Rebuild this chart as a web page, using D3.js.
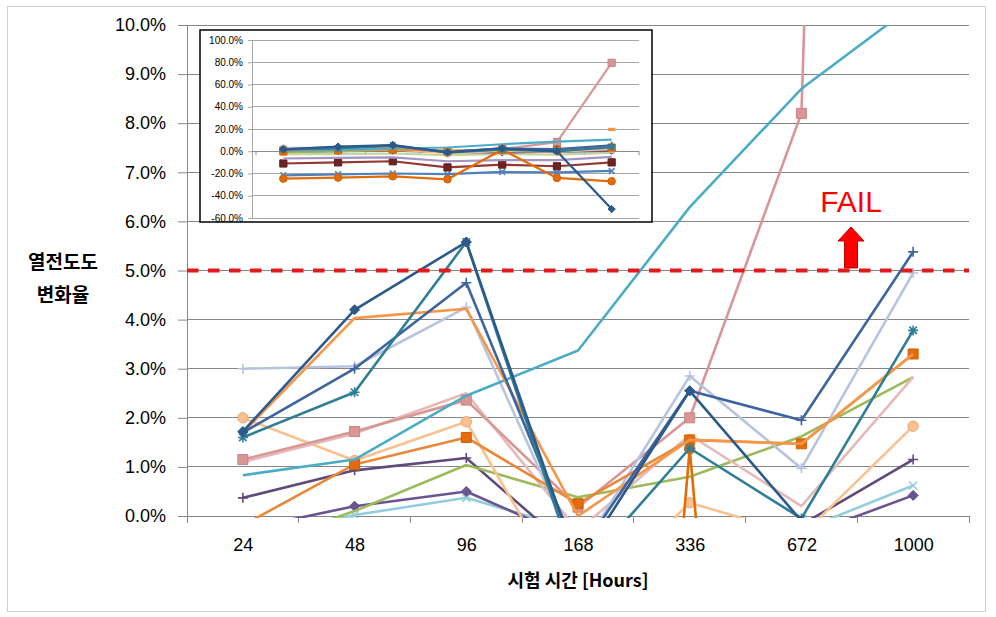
<!DOCTYPE html>
<html><head><meta charset="utf-8">
<script src="https://cdn.jsdelivr.net/npm/d3@7"></script>
<style>body{margin:0;background:#fff;} svg{display:block;}</style>
</head><body><svg id="c" width="996" height="617"></svg>
<script>
// ---------- DATA ----------
const categories = ["24", "48", "96", "168", "336", "672", "1000"];
const mainTicks = [0, 1, 2, 3, 4, 5, 6, 7, 8, 9, 10];
const insetTicks = [-60, -40, -20, 0, 20, 40, 60, 80, 100];
const failLimit = 5;
const xTitle = "시험 시간 [Hours]";
const yTitleLines = ["열전도도", "변화율"];
const failLabel = "FAIL";

// series values (% change)
const navyDiamond   = [1.72, 4.20, 5.58, -1.0, 2.55, -0.10, -52.0];
const tealStar      = [1.60, 2.52, 5.58, -1.2, 1.38, -0.05, 3.78];
const bluePlus      = [1.70, 3.00, 4.75, -0.8, 2.55, 1.95, 5.38];
const orangeLine    = [1.70, 4.03, 4.22, 0.00, 1.55, 1.47, 3.30];
const orangeSquare  = [-0.19, 1.05, 1.60, 0.25, 1.55, 1.47, 3.30];
const orangeCircle  = [-24.6, -23.7, -22.5, -25.2, 1.37, -24.0, -27.0];
const lavenderPlus  = [3.00, 3.05, 4.25, -0.8, 2.85, 0.97, 4.95];
const roseSquare    = [1.15, 1.72, 2.36, 0.18, 2.00, 8.20, 79.5];
const pinkLine      = [1.10, 1.68, 2.50, -0.3, 1.65, 0.20, 2.83];
const cyanLine      = [0.83, 1.15, 2.45, 3.37, 6.29, 8.70, 10.4];
const peachCircle   = [2.00, 1.13, 1.92, -2.0, 0.27, -0.40, 1.83];
const greenLine     = [-0.70, 0.10, 1.04, 0.38, 0.80, 1.62, 2.83];
const purplePlus    = [0.37, 0.93, 1.18, -0.8, -0.8, -0.18, 1.15];
const purpleDiamond = [-0.28, 0.20, 0.50, -0.5, -1.0, -0.42, 0.42];
const aquaX         = [-0.50, 0.02, 0.37, -0.3, -0.5, -0.29, 0.62];
const blueX         = [-21.6, -20.7, -20.0, -20.6, -18.6, -19.0, -17.7];
const darkRedSquare = [-11.0, -10.0, -9.0, -14.5, -12.0, -13.5, -10.0];
const purpleGray    = [-6.5, -6.0, -5.5, -9.0, -8.0, -8.0, -5.0];
const lightGreen    = [-2.5, -2.5, -2.0, -3.5, -2.5, -3.0, -1.5];
const orangeDash    = [null, null, null, null, null, null, 19.6];

// ---------- STYLES (drawing order) ----------
const seriesList = [
  {v: blueX,         c: "#4F81BD", m: "x"},
  {v: orangeDash,    c: "#F79646", m: "dash"},
  {v: darkRedSquare, c: "#953735", m: "square", mf: "#6B2422"},
  {v: purpleGray,    c: "#A193C4", m: "none"},
  {v: lightGreen,    c: "#C3D69B", m: "none"},
  {v: aquaX,         c: "#93CDDD", m: "x"},
  {v: purpleDiamond, c: "#6B5591", m: "diamond"},
  {v: purplePlus,    c: "#604A7B", m: "plus"},
  {v: greenLine,     c: "#9BBB59", m: "none"},
  {v: peachCircle,   c: "#FAC090", m: "circle"},
  {v: pinkLine,      c: "#E6B9B8", m: "none"},
  {v: roseSquare,    c: "#D99694", m: "square"},
  {v: lavenderPlus,  c: "#B8C3DE", m: "plus"},
  {v: orangeSquare,  c: "#E8883A", m: "square", mf: "#E46C0A"},
  {v: orangeCircle,  c: "#E36C09", m: "circle"},
  {v: cyanLine,      c: "#4BACC6", m: "none"},
  {v: orangeLine,    c: "#F79646", m: "none"},
  {v: bluePlus,      c: "#3D63A0", m: "plus"},
  {v: tealStar,      c: "#2E7F96", m: "star"},
  {v: navyDiamond,   c: "#2C5A8C", m: "diamond"}
];

function markerPath(type, s) {
  switch (type) {
    case "diamond": return `M0,${-s}L${s},0L0,${s}L${-s},0Z`;
    case "square": return `M${-s},${-s}H${s}V${s}H${-s}Z`;
    case "circle": return d3.symbol(d3.symbolCircle, Math.PI * s * s)();
    case "plus": return `M${-s},0H${s}M0,${-s}V${s}`;
    case "x": return `M${-s*0.8},${-s*0.8}L${s*0.8},${s*0.8}M${-s*0.8},${s*0.8}L${s*0.8},${-s*0.8}`;
    case "star": return `M${-s},0H${s}M0,${-s}V${s}M${-s*0.75},${-s*0.75}L${s*0.75},${s*0.75}M${-s*0.75},${s*0.75}L${s*0.75},${-s*0.75}`;
    case "dash": return `M${-s},0H${s}`;
  }
  return "";
}
const filled = t => t === "diamond" || t === "square" || t === "circle";

const svg = d3.select("#c");
const FONT = "'Liberation Sans', Arial, 'Noto Sans CJK KR', sans-serif";
const KFONT = "'Noto Sans CJK KR', 'Liberation Sans', sans-serif";

// outer border
svg.append("rect").attr("x", 7.5).attr("y", 6.5).attr("width", 978).attr("height", 605)
  .attr("fill", "#fff").attr("stroke", "#D0D0D0").attr("stroke-width", 1);

// ---------- MAIN CHART ----------
const M = {left: 187, right: 969, top: 25, bottom: 516};
const x = d3.scalePoint().domain(categories).range([M.left, M.right]).padding(0.5);
const y = d3.scaleLinear().domain([0, 10]).range([M.bottom, M.top]);

svg.append("g").selectAll("line").data(mainTicks.filter(t => t > 0)).join("line")
  .attr("x1", M.left).attr("x2", M.right).attr("y1", d => y(d)).attr("y2", d => y(d))
  .attr("stroke", "#868686").attr("stroke-width", 1).attr("shape-rendering", "crispEdges");

const yAxis = d3.axisLeft(y).tickValues(mainTicks).tickFormat(d => d.toFixed(1) + "%").tickSize(9).tickPadding(12);
const gy = svg.append("g").attr("transform", `translate(${M.left},0)`).call(yAxis);
gy.select(".domain").attr("stroke", "#868686");
gy.selectAll(".tick line").attr("stroke", "#868686");
gy.selectAll("text").attr("font-family", FONT).attr("font-size", 18).attr("fill", "#000");

const xAxis = d3.axisBottom(x).tickSize(0).tickPadding(22);
const gx = svg.append("g").attr("transform", `translate(0,${M.bottom})`).call(xAxis);
gx.select(".domain").attr("stroke", "#868686").attr("d", `M${M.left},0.5H${M.right}`);
gx.selectAll("text").attr("font-family", FONT).attr("font-size", 18).attr("fill", "#000");
const step = x.step();
gx.append("g").selectAll("line").data(d3.range(categories.length + 1)).join("line")
  .attr("x1", i => M.left + i * step).attr("x2", i => M.left + i * step)
  .attr("y1", 0).attr("y2", 7).attr("stroke", "#868686").attr("shape-rendering", "crispEdges");

svg.append("clipPath").attr("id", "mainClip").append("rect")
  .attr("x", M.left - 6).attr("y", M.top).attr("width", M.right - M.left + 12).attr("height", M.bottom - M.top + 2);

function drawSeries(g, xs, ys, lw, ms) {
  seriesList.forEach(s => {
    const pts = s.v.map((v, i) => ({cat: categories[i], v}));
    const line = d3.line().defined(d => d.v !== null).x(d => xs(d.cat)).y(d => ys(d.v));
    g.append("path").datum(pts).attr("d", line).attr("fill", "none")
      .attr("stroke", s.c).attr("stroke-width", lw).attr("stroke-linejoin", "round");
    if (s.m !== "none") {
      g.append("g").selectAll("path").data(pts.filter(d => d.v !== null)).join("path")
        .attr("transform", d => `translate(${xs(d.cat)},${ys(d.v)})`)
        .attr("d", markerPath(s.m, s.m === "circle" ? ms * 1.05 : ms))
        .attr("fill", filled(s.m) ? (s.mf || s.c) : "none")
        .attr("stroke", filled(s.m) ? d3.color(s.mf || s.c).darker(0.3) : s.c)
        .attr("stroke-width", filled(s.m) ? 1 : (s.m === "dash" ? lw * 1.5 : 1.6));
    }
  });
}

const gMain = svg.append("g").attr("clip-path", "url(#mainClip)");
drawSeries(gMain, x, y, 2.6, 5);

svg.append("line").attr("x1", M.left).attr("x2", M.right).attr("y1", y(failLimit)).attr("y2", y(failLimit))
  .attr("stroke", "#E31A1C").attr("stroke-width", 4).attr("stroke-dasharray", "11.5,9.5");

svg.append("text").attr("x", 851).attr("y", 212).attr("text-anchor", "middle")
  .attr("font-family", FONT).attr("font-size", 30).attr("fill", "#FF0000").text(failLabel);
svg.append("path")
  .attr("d", "M851,227L864,241H857.5V268H844.5V241H838Z")
  .attr("fill", "#FF0000").attr("stroke", "#C00000").attr("stroke-width", 1);

svg.append("text").attr("x", 578).attr("y", 587).attr("text-anchor", "middle")
  .attr("font-family", KFONT).attr("font-weight", "bold").attr("font-size", 18).attr("fill", "#000").text(xTitle);
yTitleLines.forEach((t, i) => {
  svg.append("text").attr("x", 63).attr("y", 269 + i * 33).attr("text-anchor", "middle")
    .attr("font-family", KFONT).attr("font-weight", "bold").attr("font-size", 19).attr("fill", "#000").text(t);
});

// ---------- INSET ----------
const I = {x0: 200, y0: 30, x1: 652, y1: 222, left: 252, right: 639, top: 40, bottom: 218};
svg.append("rect").attr("x", I.x0).attr("y", I.y0).attr("width", I.x1 - I.x0).attr("height", I.y1 - I.y0)
  .attr("fill", "#fff").attr("stroke", "#000").attr("stroke-width", 1.5);
const xi = d3.scalePoint().domain(categories).range([I.left + 4, I.right]).padding(0.5);
const yi = d3.scaleLinear().domain([-60, 100]).range([I.bottom, I.top]);

svg.append("g").selectAll("line").data(insetTicks).join("line")
  .attr("x1", I.left).attr("x2", I.right).attr("y1", d => yi(d)).attr("y2", d => yi(d))
  .attr("stroke", "#A6A6A6").attr("stroke-width", 1).attr("shape-rendering", "crispEdges");
const yiAxis = d3.axisLeft(yi).tickValues(insetTicks).tickFormat(d => d.toFixed(1) + "%").tickSize(4).tickPadding(5);
const giy = svg.append("g").attr("transform", `translate(${I.left},0)`).call(yiAxis);
giy.select(".domain").attr("stroke", "#A6A6A6");
giy.selectAll(".tick line").attr("stroke", "#A6A6A6");
giy.selectAll("text").attr("font-family", FONT).attr("font-size", 10).attr("fill", "#000");
const giz = svg.append("g");
giz.append("line").attr("x1", I.left).attr("x2", I.right).attr("y1", yi(0)).attr("y2", yi(0))
  .attr("stroke", "#8C8C8C").attr("shape-rendering", "crispEdges");
const stepI = xi.step();
giz.selectAll("line.t").data(d3.range(categories.length + 1)).join("line").attr("class", "t")
  .attr("x1", i => I.left + 4 + i * stepI).attr("x2", i => I.left + 4 + i * stepI)
  .attr("y1", yi(0)).attr("y2", yi(0) + 4).attr("stroke", "#8C8C8C");

svg.append("clipPath").attr("id", "insetClip").append("rect")
  .attr("x", I.x0 + 1).attr("y", I.y0 + 1).attr("width", I.x1 - I.x0 - 2).attr("height", I.y1 - I.y0 - 2);
const gIn = svg.append("g").attr("clip-path", "url(#insetClip)");
drawSeries(gIn, xi, yi, 2.2, 3.6);
</script></body></html>
